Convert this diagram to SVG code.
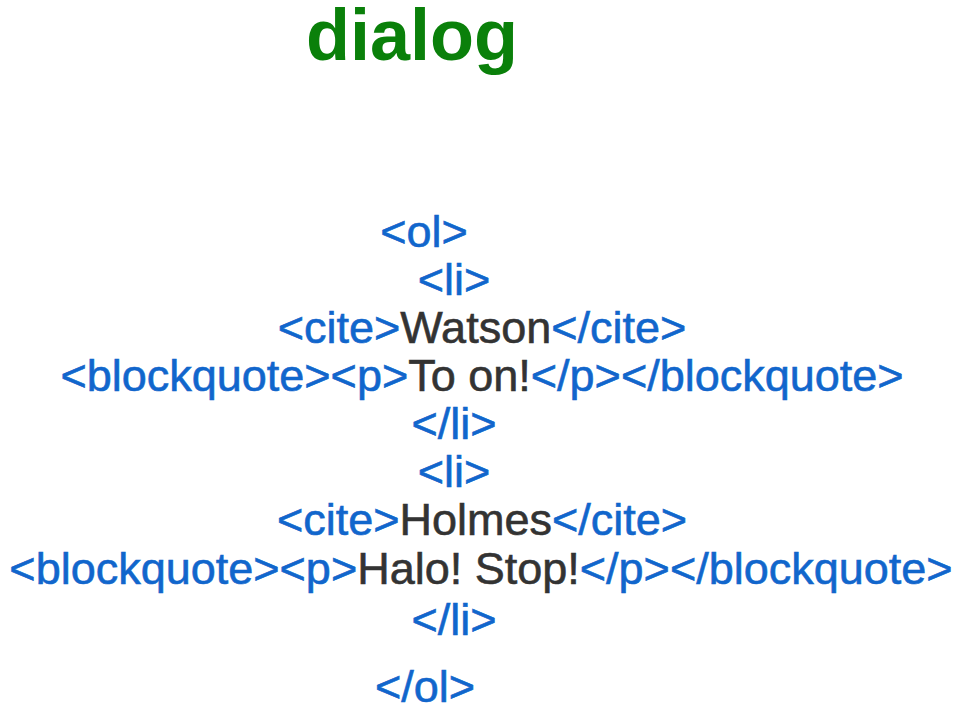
<svg xmlns="http://www.w3.org/2000/svg" width="960" height="709" viewBox="0 0 960 709">
<style>
text{font-family:"Liberation Sans",Arial,sans-serif;font-size:45px;fill:#1166cc;text-anchor:middle;stroke:#1166cc;stroke-width:0.6}
.d{fill:#333333;stroke:#333333}
.t{fill:#0a800a;stroke:none;font-weight:bold;font-size:72px;text-anchor:start}
</style>
<rect width="960" height="709" fill="#fff"/>
<text class="t" x="306" y="60">dialog</text>
<text x="424" y="247">&lt;ol&gt;</text>
<text x="454" y="295">&lt;li&gt;</text>
<text x="482" y="343">&lt;cite&gt;<tspan class="d">Watson</tspan>&lt;/cite&gt;</text>
<text x="482" y="391">&lt;blockquote&gt;&lt;p&gt;<tspan class="d">To on!</tspan>&lt;/p&gt;&lt;/blockquote&gt;</text>
<text x="454" y="439">&lt;/li&gt;</text>
<text x="454" y="487">&lt;li&gt;</text>
<text x="482" y="535">&lt;cite&gt;<tspan class="d">Holmes</tspan>&lt;/cite&gt;</text>
<text x="481" y="584">&lt;blockquote&gt;&lt;p&gt;<tspan class="d">Halo! Stop!</tspan>&lt;/p&gt;&lt;/blockquote&gt;</text>
<text x="454" y="635">&lt;/li&gt;</text>
<text x="425" y="702">&lt;/ol&gt;</text>
</svg>
